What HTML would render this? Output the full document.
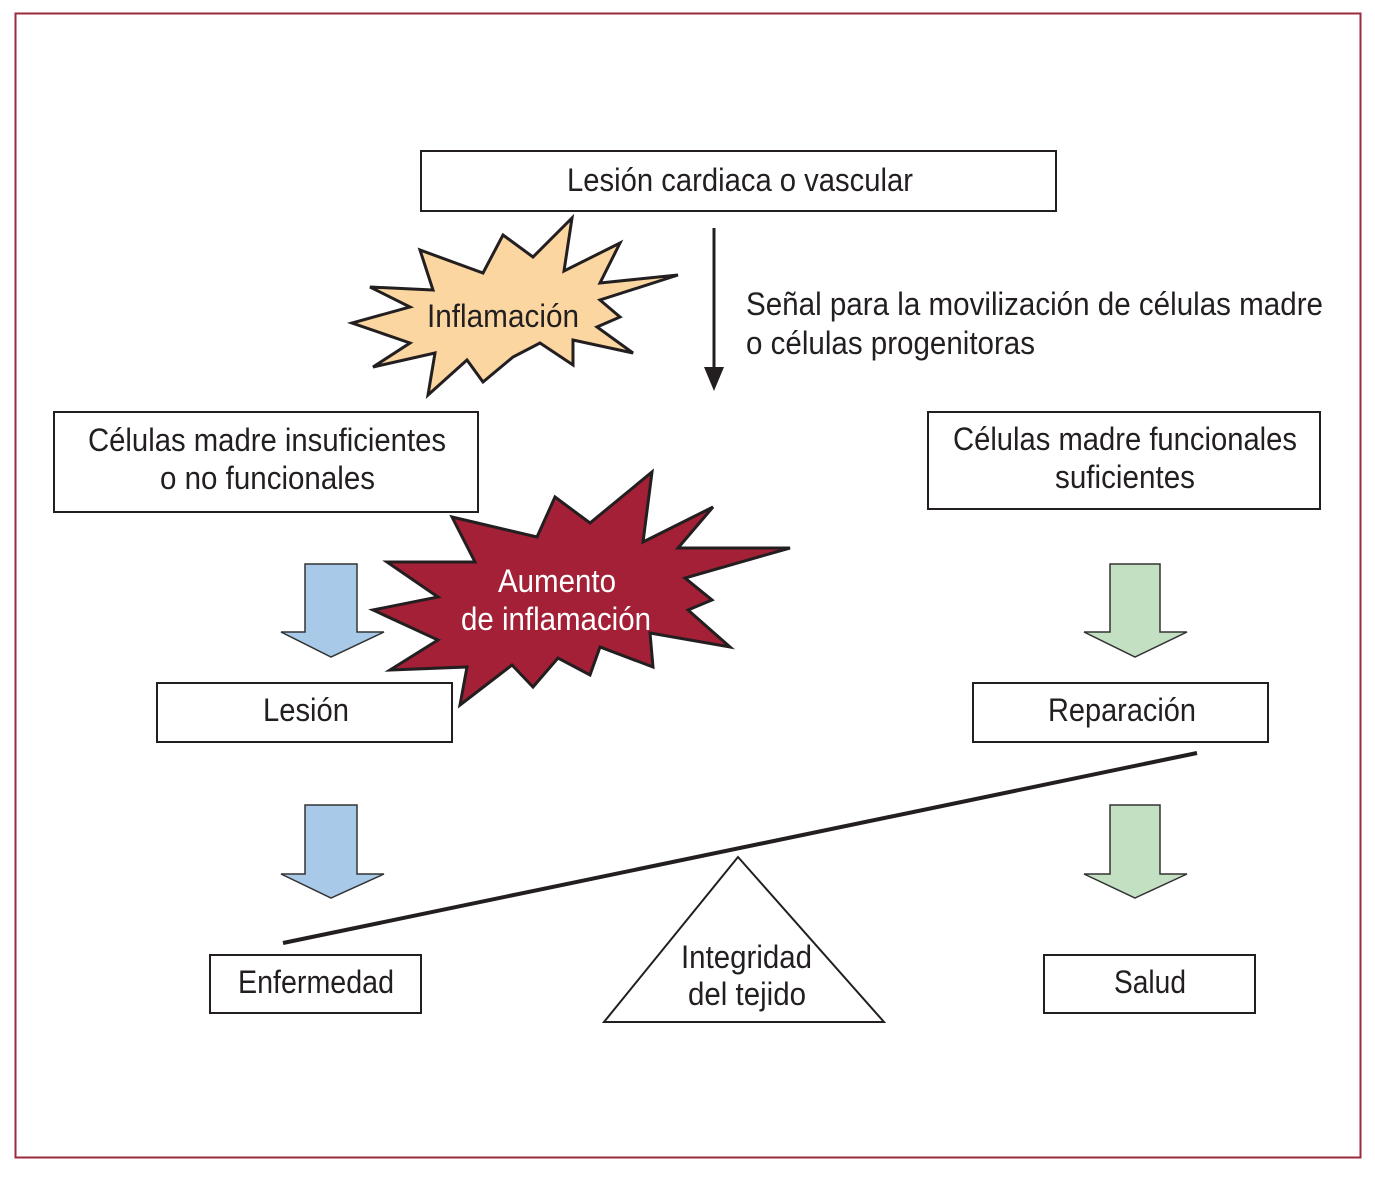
<!DOCTYPE html>
<html><head><meta charset="utf-8"><style>
body{margin:0;background:#fff;}
svg text{font-family:"Liberation Sans Narrow","Liberation Sans",sans-serif;font-size:32px;fill:#231f20;}
</style></head><body>
<svg width="1375" height="1175" viewBox="0 0 1375 1175" xmlns="http://www.w3.org/2000/svg">
<rect x="15.5" y="13.5" width="1345" height="1144" fill="#fff" stroke="#9a2a3c" stroke-width="2"/>
<g fill="#fff" stroke="#231f20" stroke-width="2">
<rect x="421" y="151" width="635" height="60"/>
<rect x="54" y="412" width="424" height="100"/>
<rect x="928" y="412" width="392" height="97"/>
<rect x="157" y="683" width="295" height="59"/>
<rect x="973" y="683" width="295" height="59"/>
<rect x="210" y="955" width="211" height="58"/>
<rect x="1044" y="955" width="211" height="58"/>
<polygon points="738,857 604,1022 884,1022"/>
</g>
<line x1="283" y1="943" x2="1197" y2="753" stroke="#231f20" stroke-width="4"/>
<line x1="714" y1="228" x2="714" y2="370" stroke="#231f20" stroke-width="3"/>
<polygon points="704,367 724,367 714,391" fill="#231f20"/>
<g stroke="#333" stroke-width="1.5">
<polygon fill="#a9c9e9" points="305,564 357,564 357,632 384,632 331,657 281,632 305,632"/>
<polygon fill="#a9c9e9" points="305,805 357,805 357,874 384,874 331,898 281,874 305,874"/>
<polygon fill="#c3e0c3" points="1110,564 1160,564 1160,632 1187,632 1135,657 1084,632 1110,632"/>
<polygon fill="#c3e0c3" points="1110,805 1160,805 1160,874 1187,874 1135,898 1084,874 1110,874"/>
</g>
<polygon fill="#fbd6a1" stroke="#231f20" stroke-width="3" points="572,218 564,271 620,243 600,283 678,275 600,300 620,317 597,327 633,353 573,340 573,365 540,343 513,357 483,382 467,360 428,395 435,353 373,367 410,343 352,323 410,307 370,287 433,290 420,250 483,273 503,235 533,257"/>
<polygon fill="#a32037" stroke="#231f20" stroke-width="3" points="652,472 643,542 713,507 678,548 790,548 685,578 712,600 688,610 730,647 650,633 653,667 600,647 590,675 558,658 533,687 512,665 460,705 467,667 390,670 438,640 373,610 438,597 387,562 475,562 452,517 537,537 555,497 590,523"/>
<g lengthAdjust="spacingAndGlyphs">
<text x="567" y="191" textLength="346" lengthAdjust="spacingAndGlyphs">Lesión cardiaca o vascular</text>
<text x="427" y="327" textLength="152" lengthAdjust="spacingAndGlyphs">Inflamación</text>
<text x="88" y="451" textLength="358" lengthAdjust="spacingAndGlyphs">Células madre insuficientes</text>
<text x="160" y="489" textLength="215" lengthAdjust="spacingAndGlyphs">o no funcionales</text>
<text x="953" y="450" textLength="344" lengthAdjust="spacingAndGlyphs">Células madre funcionales</text>
<text x="1055" y="488" textLength="140" lengthAdjust="spacingAndGlyphs">suficientes</text>
<text x="498" y="592" textLength="118" lengthAdjust="spacingAndGlyphs" style="fill:#fff">Aumento</text>
<text x="461" y="630" textLength="190" lengthAdjust="spacingAndGlyphs" style="fill:#fff">de inflamación</text>
<text x="263" y="721" textLength="86" lengthAdjust="spacingAndGlyphs">Lesión</text>
<text x="1048" y="721" textLength="148" lengthAdjust="spacingAndGlyphs">Reparación</text>
<text x="238" y="993" textLength="156" lengthAdjust="spacingAndGlyphs">Enfermedad</text>
<text x="1114" y="993" textLength="72" lengthAdjust="spacingAndGlyphs">Salud</text>
<text x="681" y="968" textLength="131" lengthAdjust="spacingAndGlyphs">Integridad</text>
<text x="688" y="1005" textLength="118" lengthAdjust="spacingAndGlyphs">del tejido</text>
<text x="746" y="315" textLength="577" lengthAdjust="spacingAndGlyphs">Señal para la movilización de células madre</text>
<text x="746" y="354" textLength="289" lengthAdjust="spacingAndGlyphs">o células progenitoras</text>
</g>
</svg>
</body></html>
